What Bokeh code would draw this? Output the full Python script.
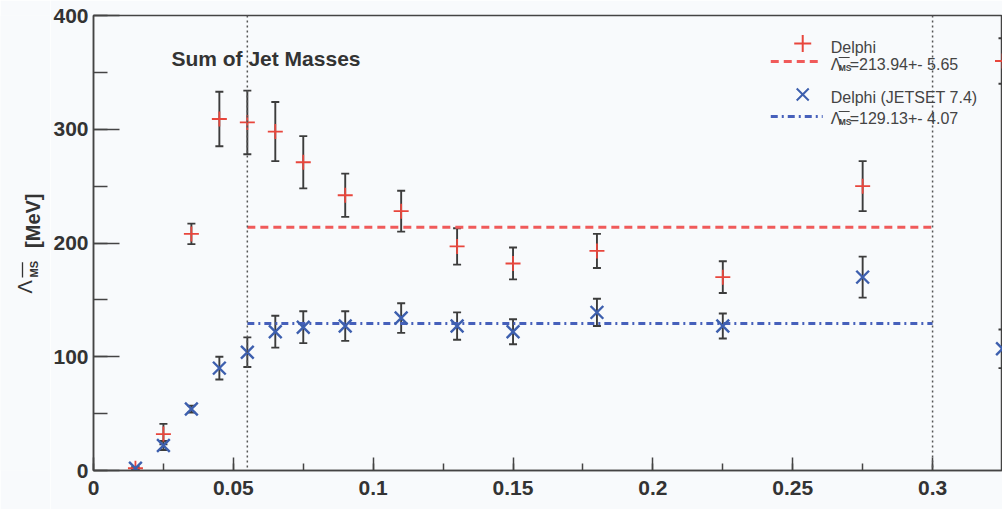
import numpy as np
from bokeh.plotting import figure
from bokeh.layouts import row
from bokeh.models import (ColumnDataSource, Range1d, SingleIntervalTicker,
                          CustomJSTickFormatter, Whisker, TeeHead, Label, Span)
from bokeh.embed import file_html
from bokeh.resources import INLINE

# ---- data ----
x_vals = [0.015, 0.025, 0.035, 0.045, 0.055, 0.065, 0.075, 0.09, 0.11, 0.13, 0.15, 0.18, 0.225, 0.275, 0.325]
delphi = [2, 32, 208, 309, 306, 298, 271, 242, 228, 197, 182, 193, 170, 250, 360]
delphi_err = [1, 9, 9, 24, 28, 26, 23, 19, 18, 16, 14, 15, 14, 22, 20]
jetset = [2, 22, 54, 90, 104, 122, 126, 127, 134, 127, 122, 139, 127, 170, 107]
jetset_err = [1, 4, 3, 10, 13, 14, 14, 13, 13, 12, 11, 12, 11, 18, 17]
fit_range = [0.055, 0.3]
delphi_fit = 213.94
delphi_fit_err = 5.65
jetset_fit = 129.13
jetset_fit_err = 4.07
title_text = "Sum of Jet Masses"
legend_labels = ["Delphi", "Delphi (JETSET 7.4)"]
y_label_unit = "[MeV]"

FONT = "Liberation Sans"
DARK = "#3c3c3c"
RED = "#e8463c"
RED_LINE = "#f05a5a"
BLUE = "#3d5fae"
BLUE_LINE = "#4660bb"
BG = "#f8fafc"

# picture geometry (px)
PAGE_L, PAGE_T = 0, 0
TOTAL_W = 1002
H = 509
LBL_W = 50
FL, FT, FB = 92, 15, 470
FR = PAGE_L + TOTAL_W
PX_PER_X = 2800.0

X0, X1 = 0.0, (FR - FL) / PX_PER_X
Y0, Y1 = 0.0, 400.0


def dx(px):
    return X0 + (px - FL) * (X1 - X0) / (FR - FL)


def dy(py):
    return Y0 + (FB - py) * (Y1 - Y0) / (FB - FT)


# ---------- narrow figure carrying the rotated y-axis title ----------
q = figure(width=LBL_W, height=H, output_backend="svg", toolbar_location=None,
           x_range=Range1d(0, LBL_W), y_range=Range1d(0, H),
           min_border=0, min_border_left=0, min_border_right=0, min_border_top=0, min_border_bottom=0)
q.axis.visible = False
q.grid.visible = False
q.outline_line_color = None
q.background_fill_color = BG
q.border_fill_color = BG

Q_SHIFT = 15  # empirical correction of the vertical placement


def qx(px):
    return px - PAGE_L


def qy(py):
    return H - (py + Q_SHIFT - PAGE_T)


q.add_layout(Label(x=qx(32), y=qy(245), text=y_label_unit, angle=np.pi / 2, text_font=FONT,
                   text_font_style="bold", text_font_size="20px", text_color="#333333",
                   text_align="left", text_baseline="alphabetic"))
q.add_layout(Label(x=qx(24), y=qy(296), text="Λ", angle=np.pi / 2, text_font=FONT,
                   text_font_size="20px", text_color="#333333",
                   text_align="left", text_baseline="alphabetic"))
q.add_layout(Label(x=qx(33), y=qy(278), text="MS", angle=np.pi / 2, text_font=FONT,
                   text_font_style="bold", text_font_size="11px", text_color="#333333",
                   text_align="left", text_baseline="alphabetic"))
q.line(x=[qx(22), qx(22)], y=[qy(278), qy(261)], line_color="#333333", line_width=1.3)

# ---------- main plot ----------
p = figure(width=TOTAL_W - LBL_W, height=H, output_backend="svg", toolbar_location=None,
           x_range=Range1d(X0, X1), y_range=Range1d(Y0, Y1),
           min_border_left=FL - PAGE_L - LBL_W, min_border_right=0,
           min_border_top=FT - PAGE_T, min_border_bottom=PAGE_T + H - FB)
p.background_fill_color = BG
p.border_fill_color = BG
p.outline_line_color = "#444444"
p.outline_line_width = 1.5
p.grid.visible = False

p.xaxis.ticker = SingleIntervalTicker(interval=0.05, num_minor_ticks=2)
p.xaxis.formatter = CustomJSTickFormatter(code="return Number(tick.toFixed(4)).toString();")
p.yaxis.ticker = SingleIntervalTicker(interval=100, num_minor_ticks=2)
for ax in (p.xaxis, p.yaxis):
    ax.axis_line_color = "#444444"
    ax.axis_line_width = 1.5
    ax.major_tick_line_color = "#444444"
    ax.major_tick_line_width = 1.5
    ax.minor_tick_line_color = "#444444"
    ax.minor_tick_line_width = 1.5
    ax.major_tick_out = 0
    ax.minor_tick_out = 0
    ax.major_label_text_font = FONT
    ax.major_label_text_font_style = "bold"
    ax.major_label_text_font_size = "21px"
    ax.major_label_text_color = "#333333"
p.xaxis.major_tick_in = 13
p.xaxis.minor_tick_in = 7
p.xaxis.major_label_standoff = 10
p.yaxis.major_tick_in = 26
p.yaxis.minor_tick_in = 14
p.yaxis.major_label_standoff = 5

# vertical dotted fit-range lines
for loc in fit_range:
    p.add_layout(Span(location=loc, dimension="height", line_color="#555555",
                      line_width=1.5, line_dash="2 3"))

# fit lines
p.line(x=fit_range, y=[delphi_fit, delphi_fit], line_color=RED_LINE, line_width=3, line_dash="8 5")
p.line(x=fit_range, y=[jetset_fit, jetset_fit], line_color=BLUE_LINE, line_width=3, line_dash="7 4 2 4")

src = ColumnDataSource(dict(
    x=x_vals, d=delphi,
    d_lo=[v - e for v, e in zip(delphi, delphi_err)],
    d_hi=[v + e for v, e in zip(delphi, delphi_err)],
    j=jetset,
    j_lo=[v - e for v, e in zip(jetset, jetset_err)],
    j_hi=[v + e for v, e in zip(jetset, jetset_err)],
))

p.scatter(x="x", y="d", source=src, marker="cross", size=15, line_color=RED, line_width=1.8)
p.scatter(x="x", y="j", source=src, marker="x", size=18, line_color=BLUE, line_width=2.4)

for lo, hi in (("d_lo", "d_hi"), ("j_lo", "j_hi")):
    p.add_layout(Whisker(base="x", lower=lo, upper=hi, source=src, dimension="height",
                         line_color=DARK, line_width=1.9,
                         lower_head=TeeHead(size=8, line_color=DARK, line_width=1.9),
                         upper_head=TeeHead(size=8, line_color=DARK, line_width=1.9)))

# title
p.add_layout(Label(x=dx(170), y=dy(58), text=title_text, text_font=FONT, text_font_style="bold",
                   text_font_size="21px", text_color="#333333", text_align="left",
                   text_baseline="alphabetic"))

# legend (drawn by hand)
TXT = dict(text_font=FONT, text_font_size="16px", text_color="#444444",
           text_align="left", text_baseline="alphabetic")
p.scatter(x=[dx(802)], y=[dy(43)], marker="cross", size=17, line_color=RED, line_width=2)
p.add_layout(Label(x=dx(830), y=dy(47), text=legend_labels[0], **TXT))
p.line(x=[dx(770), dx(822)], y=[dy(61), dy(61)], line_color=RED_LINE, line_width=3, line_dash="8 5")
p.scatter(x=[dx(802)], y=[dy(94)], marker="x", size=17, line_color=BLUE, line_width=2)
p.add_layout(Label(x=dx(830), y=dy(97), text=legend_labels[1], **TXT))
p.line(x=[dx(770), dx(822)], y=[dy(116), dy(116)], line_color=BLUE_LINE, line_width=3, line_dash="7 4 2 4")

for base_y, val, err in ((64, delphi_fit, delphi_fit_err), (118, jetset_fit, jetset_fit_err)):
    p.add_layout(Label(x=dx(830), y=dy(base_y), text="Λ", **TXT))
    p.add_layout(Label(x=dx(838), y=dy(base_y + 3), text="MS", text_font=FONT, text_font_size="8.5px",
                       text_font_style="bold", text_color="#444444", text_align="left",
                       text_baseline="alphabetic"))
    p.line(x=[dx(838), dx(849)], y=[dy(base_y - 7), dy(base_y - 7)], line_color="#444444", line_width=1)
    p.add_layout(Label(x=dx(849), y=dy(base_y), text="=%.2f+- %.2f" % (val, err), **TXT))

layout = row(q, p, spacing=0)
open("out.html", "w").write(file_html(layout, INLINE))
